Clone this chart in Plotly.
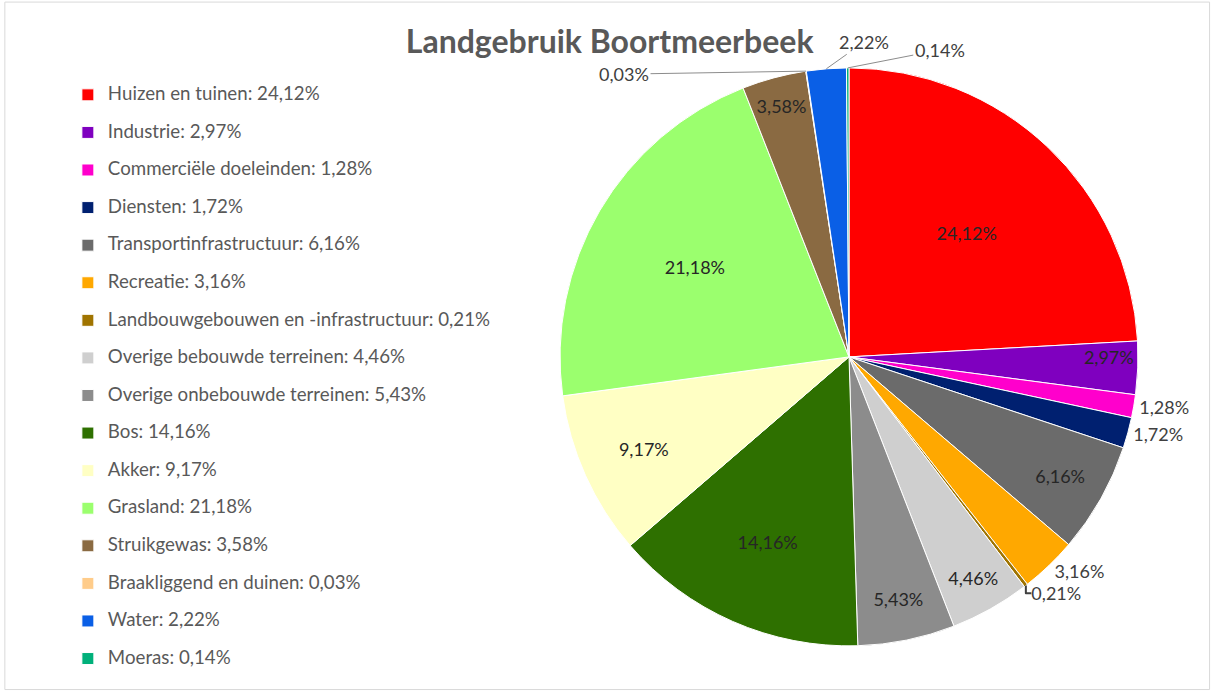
import math
import plotly.graph_objects as go

categories = ["Huizen en tuinen", "Industrie", "Commerciële doeleinden", "Diensten",
              "Transportinfrastructuur", "Recreatie", "Landbouwgebouwen en -infrastructuur",
              "Overige bebouwde terreinen", "Overige onbebouwde terreinen", "Bos", "Akker",
              "Grasland", "Struikgewas", "Braakliggend en duinen", "Water", "Moeras"]
values = [24.12, 2.97, 1.28, 1.72, 6.16, 3.16, 0.21, 4.46, 5.43, 14.16, 9.17, 21.18, 3.58, 0.03, 2.22, 0.14]
colors = ["#FF0000", "#7F00BF", "#FF00CC", "#002070", "#6B6B6B", "#FFA800", "#A07400",
          "#CFCFCF", "#8C8C8C", "#2E7000", "#FFFFC4", "#9BFF6E", "#8A6A42", "#FFCC8A",
          "#0A5FE6", "#00B07A"]
positions = ["inside", "inside", "outside", "outside", "inside", "outside", "outside",
             "inside", "inside", "inside", "inside", "inside", "inside", "none",
             "none", "none"]
# label offsets (px) for the three tiny top slices, drawn with leader lines
callout_offsets = {13: (-182, 3), 14: (38, -27), 15: (92, -18)}

def fmt(v):
    return f"{v:.2f}".replace(".", ",") + "%"

legend_labels = [f"<span style='font-size:18.7px'>{c}: {fmt(v)}</span><br> "
                 for c, v in zip(categories, values)]
slice_text = [fmt(v) for v in values]

W, H = 1212, 693
dom_x = [0.462, 0.939]
dom_y = [0.068, 0.902]

fig = go.Figure(go.Pie(
    labels=legend_labels,
    values=values,
    text=slice_text,
    textinfo="text",
    textposition=positions,
    insidetextorientation="horizontal",
    insidetextfont=dict(color="#262626", size=18, family="Lato"),
    outsidetextfont=dict(color="#404040", size=18, family="Lato"),
    marker=dict(colors=colors, line=dict(color="white", width=1)),
    sort=False,
    direction="clockwise",
    rotation=0,
    hoverinfo="skip",
    domain=dict(x=dom_x, y=dom_y),
))

# callouts for the tiny slices, anchored on the pie edge at each slice's mid-angle
cx = (dom_x[0] + dom_x[1]) / 2
cy = (dom_y[0] + dom_y[1]) / 2
r_px = min((dom_x[1] - dom_x[0]) * W, (dom_y[1] - dom_y[0]) * H) / 2
total = sum(values)
annotations = []
cum = 0.0
for i, v in enumerate(values):
    mid = (cum + v / 2) / total * 2 * math.pi
    cum += v
    if i in callout_offsets:
        ax, ay = callout_offsets[i]
        annotations.append(dict(
            x=cx + r_px * math.sin(mid) / W, y=cy + r_px * math.cos(mid) / H,
            xref="paper", yref="paper", text=slice_text[i], showarrow=True,
            arrowhead=0, arrowwidth=1, arrowcolor="#8C8C8C", ax=ax, ay=ay,
            font=dict(family="Lato", size=18, color="#404040")))

fig.update_layout(
    width=W, height=H,
    margin=dict(l=0, r=0, t=0, b=0),
    paper_bgcolor="white",
    title=dict(text="<b>Landgebruik Boortmeerbeek</b>", x=0.503, xanchor="center",
               y=0.94, yanchor="middle",
               font=dict(family="Lato", size=32, color="#595959")),
    legend=dict(x=0.056, y=0.885, xanchor="left", yanchor="top",
                bgcolor="rgba(0,0,0,0)",
                font=dict(family="Lato", size=13.3, color="#595959"),
                valign="top", itemwidth=30, tracegroupgap=0),
    annotations=annotations,
    shapes=[dict(type="rect", xref="paper", yref="paper", x0=0.004, y0=0.005, x1=0.998, y1=0.997,
                 line=dict(color="#D9D9D9", width=1))],
)

fig.write_html("out.html")
